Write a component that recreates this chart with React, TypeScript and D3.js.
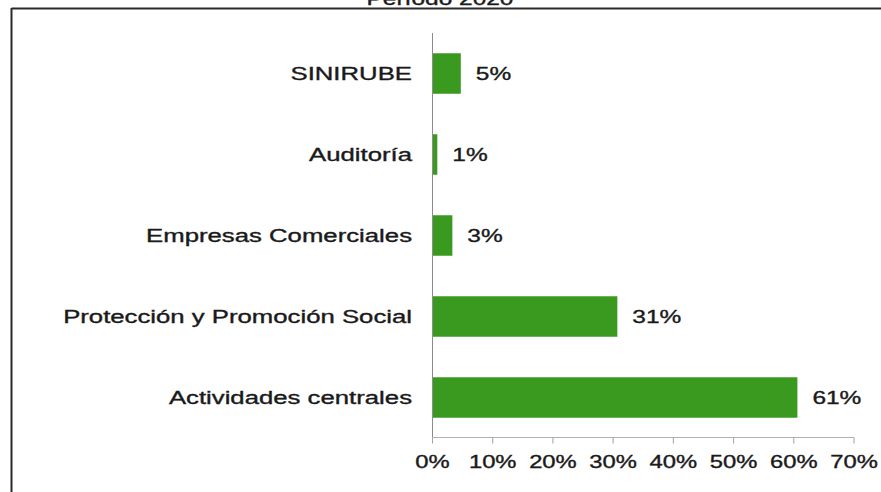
import React from "react";
import * as d3 from "d3";

const categories = [
  "SINIRUBE",
  "Auditoría",
  "Empresas Comerciales",
  "Protección y Promoción Social",
  "Actividades centrales",
];
const values = [4.7, 0.8, 3.3, 30.7, 60.6];
const valueLabels = ["5%", "1%", "3%", "31%", "61%"];
const xTicks = [0, 10, 20, 30, 40, 50, 60, 70];
const title = "Período 2020";

const W = 881;
const H = 492;
const FONT = "Liberation Sans, Arial, sans-serif";

export default function App() {
  const x = d3.scaleLinear().domain([0, 70]).range([432.5, 854]);
  const y = d3.scaleBand<string>().domain(categories).range([33, 438]).paddingInner(0.5).paddingOuter(0.25);
  const x0 = x(0);
  const axisY = 437.5;

  const txt = (
    key: string,
    tx: number,
    ty: number,
    s: string,
    anchor: "start" | "middle" | "end",
    sx = 1.4,
    size = 17.5
  ) => (
    <text
      key={key}
      transform={`translate(${tx},${ty}) scale(${sx},1)`}
      textAnchor={anchor}
      fontFamily={FONT}
      fontSize={size}
      fill="#1a1a1a"
      stroke="#1a1a1a"
      strokeWidth={0.35}
    >
      {s}
    </text>
  );

  return (
    <svg
      width={W}
      height={H}
      style={{ position: "absolute", left: 0, top: 0, background: "#fff" }}
    >
      <rect x={0} y={0} width={W} height={H} fill="#fff" />
      {txt("title", 440, 4.5, title, "middle")}
      {/* frame */}
      <line x1={11.5} y1={8.5} x2={W} y2={8.5} stroke="#2a2a2a" strokeWidth={2} />
      <line x1={11.5} y1={8} x2={11.5} y2={H} stroke="#2a2a2a" strokeWidth={2} />

      {/* bars */}
      {categories.map((c, i) => (
        <rect
          key={c}
          x={x0}
          y={y(c)!}
          width={x(values[i]) - x0}
          height={y.bandwidth()}
          fill="#3a9a20"
        />
      ))}

      {/* vertical axis */}
      <line x1={x0} y1={33} x2={x0} y2={axisY} stroke="#8c8c8c" strokeWidth={1} />
      {/* x axis */}
      <line x1={x0} y1={axisY} x2={x(70)} y2={axisY} stroke="#b0b0b0" strokeWidth={1} />
      {xTicks.map((t) => (
        <line key={"t" + t} x1={x(t)} y1={axisY} x2={x(t)} y2={axisY + 6} stroke="#a0a0a0" />
      ))}
      {xTicks.map((t) => txt("xl" + t, x(t), 468, `${t}%`, "middle", 1.36))}

      {/* category labels */}
      {categories.map((c) =>
        txt("c" + c, 412, y(c)! + y.bandwidth() / 2 + 6.5, c, "end", 1.47)
      )}
      {/* value labels */}
      {categories.map((c, i) =>
        txt("v" + c, x(values[i]) + 15, y(c)! + y.bandwidth() / 2 + 6.5, valueLabels[i], "start")
      )}
    </svg>
  );
}
